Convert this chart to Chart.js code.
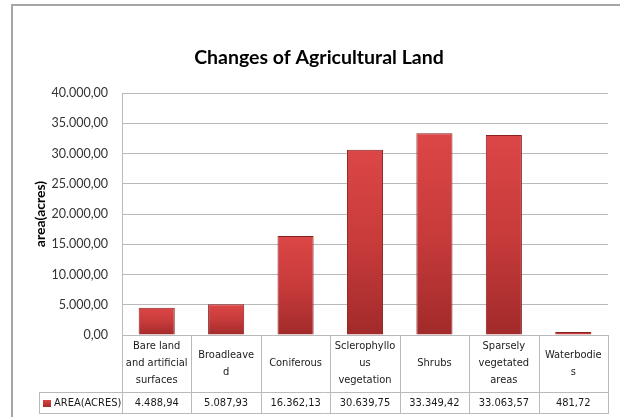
<!DOCTYPE html>
<html>
<head>
<meta charset="utf-8">
<script src="https://cdn.jsdelivr.net/npm/chart.js@4.4.1/dist/chart.umd.min.js"></script>
<style>
  html, body { margin: 0; padding: 0; background: #fff; }
  #wrap { position: relative; width: 620px; height: 417px; overflow: hidden; }
  #frame { position: absolute; left: 11px; top: 4px; width: 700px; height: 500px;
           border-left: 2px solid #a6a6a6; border-top: 2px solid #a6a6a6; }
  #landChart { position: absolute; left: 0; top: 0; }
</style>
</head>
<body>
<div id="wrap">
  <div id="frame"></div>
  <canvas id="landChart" width="620" height="417"></canvas>
</div>
<script>
/* ===== Changes of Agricultural Land ===== */

const categories = [
  ['Bare land', 'and artificial', 'surfaces'],
  ['Broadleave', 'd'],
  ['Coniferous'],
  ['Sclerophyllo', 'us', 'vegetation'],
  ['Shrubs'],
  ['Sparsely', 'vegetated', 'areas'],
  ['Waterbodie', 's']
];
const areaValues = [4488.94, 5087.93, 16362.13, 30639.75, 33349.42, 33063.57, 481.72];
const seriesName = 'AREA(ACRES)';
const yTicks = [0, 5000, 10000, 15000, 20000, 25000, 30000, 35000, 40000];

const TABLE_FONT = "11px 'Liberation Sans Narrow', 'DejaVu Sans Condensed', 'Liberation Sans', sans-serif";
const GRID = '#bababa';

// 40000 -> "40.000,00"
function formatNum(v) {
  const parts = v.toFixed(2).split('.');
  const intPart = parts[0].replace(/\B(?=(\d{3})+(?!\d))/g, '.');
  return intPart + ',' + parts[1];
}

function barGradient(ctx) {
  const chart = ctx.chart;
  const area = chart.chartArea;
  const y = chart.scales.y;
  if (!area || !y) return '#c43a3a';
  const top = y.getPixelForValue(ctx.raw);
  const g = chart.ctx.createLinearGradient(0, top, 0, area.bottom);
  g.addColorStop(0, '#dc4646');
  g.addColorStop(0.5, '#c83b3b');
  g.addColorStop(1, '#a22a2a');
  return g;
}

// data table under the x axis (category row + value row)
const dataTable = {
  id: 'dataTable',
  afterDraw(chart) {
    const { ctx, chartArea } = chart;
    const x = chart.scales.x;
    const n = categories.length;
    const colW = x.width / n;
    const top = chartArea.bottom;
    const split = top + 57;
    const bottom = split + 21;
    const left = 39;

    ctx.save();
    ctx.strokeStyle = GRID;
    ctx.lineWidth = 1;
    const line = (x1, y1, x2, y2) => {
      ctx.beginPath();
      ctx.moveTo(x1, y1);
      ctx.lineTo(x2, y2);
      ctx.stroke();
    };
    line(left, split + 0.5, chartArea.right, split + 0.5);
    line(left, bottom + 0.5, chartArea.right, bottom + 0.5);
    line(left + 0.5, split, left + 0.5, bottom + 1);
    for (let i = 0; i <= n; i++) {
      const xx = Math.round(x.left + i * colW) + 0.5;
      line(xx, top, xx, bottom + 1);
    }

    ctx.fillStyle = '#1a1a1a';
    ctx.font = TABLE_FONT;
    ctx.textAlign = 'center';
    ctx.textBaseline = 'middle';
    const lineH = 17;
    const midCat = (top + split) / 2;
    const midVal = (split + bottom) / 2 + 1;
    categories.forEach((lines, i) => {
      const cx = x.getPixelForValue(i);
      const start = midCat - (lines.length - 1) * lineH / 2;
      lines.forEach((t, j) => ctx.fillText(t, cx, start + j * lineH));
      ctx.fillText(formatNum(areaValues[i]), cx, midVal);
    });

    // legend key + series name
    const g = ctx.createLinearGradient(0, midVal - 4, 0, midVal + 4);
    g.addColorStop(0, '#dc4646');
    g.addColorStop(1, '#a22a2a');
    ctx.fillStyle = g;
    ctx.fillRect(43, midVal - 3.5, 8, 7);
    ctx.fillStyle = '#1a1a1a';
    ctx.textAlign = 'left';
    ctx.fillText(seriesName, 54, midVal);
    ctx.restore();
  }
};

new Chart(document.getElementById('landChart'), {
  type: 'bar',
  data: {
    labels: categories,
    datasets: [{
      label: seriesName,
      data: areaValues,
      backgroundColor: barGradient,
      borderColor: '#872020',
      borderWidth: 1,
      categoryPercentage: 1,
      barPercentage: 0.52
    }]
  },
  options: {
    responsive: false,
    devicePixelRatio: 1,
    animation: false,
    layout: { padding: { left: 30, right: 12, top: 0, bottom: 4 } },
    plugins: {
      legend: { display: false },
      tooltip: { enabled: false },
      title: {
        display: true,
        text: 'Changes of Agricultural Land',
        color: '#000',
        font: { family: 'Lato', size: 19.5, weight: 'bold' },
        padding: { top: 46.3, bottom: 23.3 }
      }
    },
    scales: {
      x: {
        grid: { display: false },
        border: { color: GRID },
        ticks: { display: false },
        afterFit(scale) { scale.height = 78; }
      },
      y: {
        min: 0,
        max: 40000,
        afterBuildTicks(scale) { scale.ticks = yTicks.map(v => ({ value: v })); },
        grid: { color: GRID, drawTicks: false },
        border: { color: GRID },
        ticks: {
          padding: 14,
          color: '#333',
          font: { family: 'Lato', size: 12.5 },
          callback: v => formatNum(v)
        },
        title: {
          display: true,
          text: 'area(acres)',
          color: '#000',
          font: { family: 'Lato', size: 14, weight: 'bold' },
          padding: { top: 2, bottom: 0 }
        },
        afterFit(scale) { scale.width = 92; }
      }
    }
  },
  plugins: [dataTable]
});
</script>
</body>
</html>
